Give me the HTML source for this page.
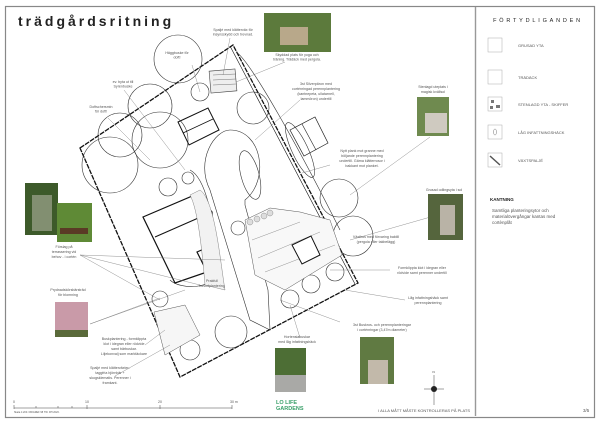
<!DOCTYPE html>
<html><head><meta charset="utf-8"><style>
html,body{margin:0;padding:0;background:#fff;width:600px;height:425px;overflow:hidden}
svg{display:block}
text{font-family:"Liberation Sans",sans-serif;fill:#555}
.l{font-size:3.6px;text-anchor:middle}
.ln{stroke:#777;stroke-width:0.4;fill:none}
.t{stroke:#333;stroke-width:0.6;fill:none}
</style></head><body>
<svg width="600" height="425" viewBox="0 0 600 425" xmlns="http://www.w3.org/2000/svg">
<rect x="5.5" y="6.5" width="589" height="411" fill="#fff" stroke="#888" stroke-width="1.2"/>
<line x1="475.5" y1="7" x2="475.5" y2="416" stroke="#999" stroke-width="1.4"/>
<text x="18" y="26" style="font-size:14px;letter-spacing:3px;fill:#222;font-weight:bold">trädgårdsritning</text>

<!-- plot -->
<polygon points="80,148 233,45 358,283 180,377" fill="none" stroke="#111" stroke-width="1.3" stroke-dasharray="5,1"/>
<line x1="233" y1="45" x2="358" y2="283" stroke="#111" stroke-width="0.6" transform="translate(-3,1)"/>
<path d="M236,52 C250,60 300,150 340,230" class="t"/>
<!-- trees -->
<g class="t">
<circle cx="178" cy="59" r="24"/>
<circle cx="150" cy="106" r="22"/>
<circle cx="120" cy="135" r="22"/>
<circle cx="110" cy="165" r="28"/>
<circle cx="160" cy="140" r="28"/>
<circle cx="200" cy="92" r="9"/>
<circle cx="253" cy="108" r="16"/>
<circle cx="339" cy="198" r="19"/>
<circle cx="353" cy="236" r="20"/>
<circle cx="238" cy="228" r="7"/>
<circle cx="160" cy="299" r="8"/>
<circle cx="168" cy="187" r="9"/>
<circle cx="188" cy="178" r="6"/>
<circle cx="231" cy="332" r="16"/>
<circle cx="190" cy="350" r="10"/>
<circle cx="290" cy="299" r="9"/>
<circle cx="311" cy="284" r="9"/>
<circle cx="335" cy="272" r="9"/>
<ellipse cx="250" cy="175" rx="9" ry="25" transform="rotate(-15 250 175)"/>
<ellipse cx="300" cy="150" rx="8" ry="30" transform="rotate(-25 300 150)"/>
<path d="M230,130 C262,130 270,180 245,200 L245,205 L268,290 L270,330 L250,320 L210,190 C195,160 215,130 230,130 Z"/>
<path d="M190,170 C210,180 215,240 220,270 C215,290 180,290 170,280" />
</g>
<!-- pergola -->
<rect x="210" y="70" width="26" height="22" fill="#eee" stroke="#444" stroke-width="0.6" transform="rotate(-5 223 81)"/>
<g stroke="#555" stroke-width="0.4"><line x1="213" y1="75" x2="236" y2="74"/><line x1="213" y1="80" x2="236" y2="79"/><line x1="213" y1="85" x2="236" y2="84"/></g>
<!-- sheds -->
<polygon points="178,122 208,108 219,130 189,145" fill="none" stroke="#111" stroke-width="1"/>
<line x1="183" y1="133" x2="213" y2="119" stroke="#111" stroke-width="0.8"/>
<polygon points="290,130 315,117 328,143 304,156" fill="none" stroke="#222" stroke-width="0.7"/>
<line x1="302" y1="124" x2="316" y2="150" stroke="#222" stroke-width="0.6"/>
<!-- house -->
<polygon points="143,217 197,194 212,212 213,245 197,252 207,272 175,283" fill="#fff" stroke="#111" stroke-width="1.2"/>
<line x1="155" y1="237" x2="212" y2="212" stroke="#111" stroke-width="1"/>
<!-- greenhouse area -->
<polygon points="245,220 270,208 300,212 330,220 342,255 285,290 255,275" fill="#f8f8f8" stroke="#555" stroke-width="0.5"/>
<g stroke="#777" stroke-width="0.4" fill="none"><line x1="252" y1="240" x2="300" y2="222"/><line x1="258" y1="258" x2="320" y2="232"/><line x1="265" y1="272" x2="335" y2="245"/></g>
<polygon points="292,245 311,236 320,255 302,264" fill="#fff" stroke="#111" stroke-width="1"/>
<g fill="#ddd" stroke="#555" stroke-width="0.3"><circle cx="250" cy="222" r="3"/><circle cx="257" cy="219" r="3"/><circle cx="264" cy="216" r="3"/><circle cx="270" cy="213" r="3"/></g>
<polygon points="154,312 185,305 200,335 165,355" fill="#f6f6f6" stroke="#555" stroke-width="0.5"/>
<path d="M200,190 C215,200 220,260 225,290 L205,285 C202,250 198,210 190,195Z" fill="#f2f2f2" stroke="#666" stroke-width="0.4"/>

<!-- label lines -->
<g class="ln">
<line x1="230" y1="38" x2="223" y2="75"/><line x1="285" y1="62" x2="236" y2="82"/>
<line x1="300" y1="100" x2="255" y2="140"/><line x1="330" y1="165" x2="302" y2="173"/>
<line x1="430" y1="137" x2="350" y2="195"/><line x1="350" y1="240" x2="448" y2="212"/>
<line x1="330" y1="270" x2="390" y2="270"/><line x1="345" y1="290" x2="405" y2="300"/>
<line x1="280" y1="300" x2="340" y2="322"/><line x1="300" y1="338" x2="290" y2="305"/>
<line x1="192" y1="65" x2="200" y2="92"/><line x1="124" y1="90" x2="185" y2="170"/>
<line x1="108" y1="118" x2="150" y2="160"/><line x1="80" y1="255" x2="225" y2="260"/>
<line x1="80" y1="255" x2="200" y2="285"/><line x1="80" y1="255" x2="160" y2="300"/>
<line x1="90" y1="324" x2="160" y2="298"/><line x1="90" y1="324" x2="185" y2="290"/>
<line x1="145" y1="345" x2="165" y2="330"/><line x1="115" y1="376" x2="170" y2="345"/>
</g>

<!-- labels -->
<g>
<text class="l" x="233" y="31">Spaljé med klätterväx för</text><text class="l" x="233" y="35.5">insynsskydd och trevnad.</text>
<text class="l" x="177" y="54">Häggbuske för</text><text class="l" x="177" y="58.5">doft!</text>
<text class="l" x="123" y="83">ev. byta ut till</text><text class="l" x="123" y="87.5">Syrénbuske</text>
<text class="l" x="101" y="108">Doftschersmin</text><text class="l" x="101" y="112.5">för doft!</text>
<text class="l" x="297" y="56">Skyddad plats för yoga och</text><text class="l" x="297" y="60.5">träning. Trädäck med pergola.</text>
<text class="l" x="316" y="85">3st Silverpäron med</text><text class="l" x="316" y="90">corténringad perennplantering</text><text class="l" x="316" y="95">(kantnepeta, ullatarnell,</text><text class="l" x="316" y="100">lammöron) undertill</text>
<text class="l" x="362" y="152">Nytt plank mot granne med</text><text class="l" x="362" y="157">böljande perennplantering</text><text class="l" x="362" y="162">undertill. Gärna klätterrosor i</text><text class="l" x="362" y="167">bakkant mot planket.</text>
<text class="l" x="433" y="88">Stenlagd uteplats i</text><text class="l" x="433" y="93">magisk kvällsol</text>
<text class="l" x="444" y="191">Grusad odlingsyta i sol</text>
<text class="l" x="376" y="238">Växthus med förvaring baktill</text><text class="l" x="376" y="243">(pergola eller takbelägg)</text>
<text class="l" x="422" y="269">Formklippta klot i idegran eller</text><text class="l" x="422" y="274">rödvide samt perenner undertill</text>
<text class="l" x="428" y="299">Låg infattningshäck samt</text><text class="l" x="428" y="304">perennplantering</text>
<text class="l" x="382" y="326">3st Buskros- och perennplanteringar</text><text class="l" x="382" y="331">i cortènringar (3,47m diameter)</text>
<text class="l" x="297" y="338">Hortensiabuskar</text><text class="l" x="297" y="343">med låg infattningshäck</text>
<text class="l" x="212" y="282">Prakfull</text><text class="l" x="212" y="287">husodplantering</text>
<text class="l" x="64" y="248">Förslag på</text><text class="l" x="64" y="253">terrassering vid</text><text class="l" x="64" y="258">behov - i cortén</text>
<text class="l" x="68" y="291">Prydnadskörsbärsträd</text><text class="l" x="68" y="296">för blomning</text>
<text class="l" x="124" y="340">Buskplantering - formklippta</text><text class="l" x="124" y="345">klot i idegran eller rödvide</text><text class="l" x="124" y="350">samt bärbuskar.</text><text class="l" x="124" y="355">Liljekonvalj som marktäckare</text>
<text class="l" x="110" y="369">Spaljé med klätterväxter-</text><text class="l" x="110" y="374">taggfria björnbär +</text><text class="l" x="110" y="379">skogsklematis. Perenner i</text><text class="l" x="110" y="384">framkant.</text>
</g>

<!-- photos -->
<rect x="264" y="13" width="67" height="39" fill="#5c7a3c"/><rect x="280" y="27" width="28" height="18" fill="#b8a88a"/>
<rect x="417" y="97" width="32" height="39" fill="#6f8a4f"/><rect x="425" y="113" width="22" height="20" fill="#cfcac0"/>
<rect x="428" y="194" width="35" height="46" fill="#55653d"/><rect x="440" y="205" width="15" height="30" fill="#b9b3a6"/>
<rect x="25" y="183" width="33" height="52" fill="#3d5a2a"/><rect x="32" y="195" width="20" height="36" fill="#a0a590" opacity="0.7"/>
<rect x="57" y="203" width="35" height="39" fill="#5f8a36"/><rect x="60" y="228" width="28" height="6" fill="#5a3a25"/>
<rect x="55" y="302" width="33" height="35" fill="#c99aa8"/><rect x="55" y="330" width="33" height="7" fill="#5a6a3a"/>
<rect x="275" y="348" width="31" height="44" fill="#4d6e35"/><rect x="275" y="375" width="31" height="17" fill="#a9a9a6"/>
<rect x="360" y="337" width="34" height="47" fill="#607a42"/><rect x="368" y="360" width="20" height="24" fill="#c2b9aa"/>

<!-- scale bar -->
<line x1="14" y1="408" x2="232" y2="408" stroke="#444" stroke-width="0.6"/>
<g stroke="#444" stroke-width="0.5"><line x1="14" y1="405" x2="14" y2="409"/><line x1="87" y1="405" x2="87" y2="409"/><line x1="160" y1="405" x2="160" y2="409"/><line x1="232" y1="405" x2="232" y2="409"/><line x1="36" y1="406" x2="36" y2="408"/><line x1="58" y1="406" x2="58" y2="408"/><line x1="72" y1="406" x2="72" y2="408"/></g>
<g style="font-size:3.5px;fill:#222"><text x="13" y="403">0</text><text x="85" y="403">10</text><text x="158" y="403">20</text><text x="230" y="403">30 m</text><text x="14" y="413" style="font-size:2.5px">Skala 1:200. DWGREF 98 TW. RH 2020.</text></g>
<text x="276" y="404" style="font-size:5.5px;font-weight:bold;fill:#3aa06a">LO LIFE</text><text x="276" y="410" style="font-size:5.5px;font-weight:bold;fill:#3aa06a">GARDENS</text>
<!-- compass -->
<g stroke="#444" stroke-width="0.5"><line x1="434" y1="375" x2="434" y2="405"/><line x1="424" y1="389" x2="444" y2="389"/></g>
<circle cx="434" cy="389" r="3" fill="#222"/><text x="432.5" y="373" style="font-size:3px;fill:#222">N</text>
<text x="470" y="412" style="font-size:4px;text-anchor:end">I ALLA MÅTT MÅSTE KONTROLLERAS PÅ PLATS</text>
<text x="583" y="412" style="font-size:4.5px">3/5</text>

<!-- legend -->
<text x="538" y="22" style="font-size:5.5px;letter-spacing:2.8px;text-anchor:middle;fill:#222">FÖRTYDLIGANDEN</text>
<g fill="#fff" stroke="#aaa" stroke-width="0.5">
<rect x="488" y="38" width="14" height="14"/><rect x="488" y="70" width="14" height="14"/><rect x="488" y="97" width="14" height="14"/><rect x="488" y="125" width="14" height="14"/><rect x="488" y="153" width="14" height="14"/></g>
<g fill="#777"><rect x="491" y="100" width="3" height="3"/><rect x="496" y="105" width="4" height="3"/><rect x="490" y="106" width="3" height="3"/></g>
<ellipse cx="495" cy="132" rx="1.5" ry="3" fill="none" stroke="#777" stroke-width="0.5"/>
<line x1="490" y1="156" x2="500" y2="165" stroke="#555" stroke-width="1.5"/>
<g style="font-size:4px;fill:#555"><text x="518" y="47">GRUSAD YTA</text><text x="518" y="79">TRÄDÄCK</text><text x="518" y="106">STENLAGD YTA - SKIFFER</text><text x="518" y="134">LÅG INFATTNINGSHÄCK</text><text x="518" y="162">VÄXTSPALJÉ</text></g>
<text x="490" y="201" style="font-size:4.5px;font-weight:bold;fill:#222">KANTNING</text>
<g style="font-size:4.5px;fill:#555"><text x="492" y="212">Samtliga planteringsytor och</text><text x="492" y="218">materialövergångar kantas med</text><text x="492" y="224">cortènplåt</text></g>
</svg>
</body></html>
